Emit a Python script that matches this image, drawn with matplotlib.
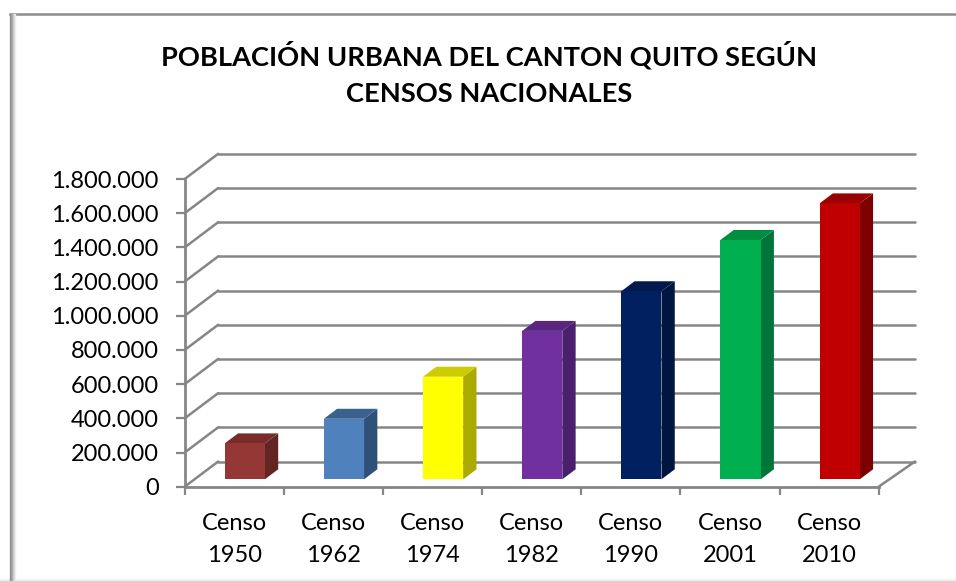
import matplotlib
matplotlib.use("Agg")
import matplotlib.pyplot as plt
from matplotlib.lines import Line2D
from matplotlib.patches import Polygon, Rectangle
from matplotlib.ticker import FuncFormatter

# ---- data ----
categories = ["Censo\n1950", "Censo\n1962", "Censo\n1974", "Censo\n1982",
              "Censo\n1990", "Censo\n2001", "Censo\n2010"]
values = [210000, 354000, 600000, 868000, 1100000, 1400000, 1614000]
front_colors = ["#953735", "#4f81bd", "#ffff00", "#7030a0", "#002060", "#00b050", "#c00000"]
top_colors = ["#772c2a", "#3b618f", "#cccc00", "#592680", "#001a4d", "#008d40", "#990000"]
side_colors = ["#632523", "#2f5079", "#aaaa00", "#4a1f6b", "#001540", "#00753a", "#7f0000"]
y_ticks = list(range(0, 1800001, 200000))
title = "POBLACIÓN URBANA DEL CANTON QUITO SEGÚN\nCENSOS NACIONALES"

# ---- layout (pixels of a 956x581 figure) ----
W, H = 956, 581
X0, X1, Y0, Y1 = 184.7, 878.7, 486.7, 179.0
GRID = "#868686"
plt.rcParams["font.family"] = ["Lato", "Carlito", "DejaVu Sans"]

fig = plt.figure(figsize=(W / 100, H / 100), dpi=100, facecolor="white")
ax = fig.add_axes([X0 / W, 1 - Y0 / H, (X1 - X0) / W, (Y0 - Y1) / H])
ax.set_xlim(0, len(values))
ax.set_ylim(0, y_ticks[-1])
ax.patch.set_visible(False)

ux = (X1 - X0) / len(values)          # pixels per category
uy = (Y0 - Y1) / y_ticks[-1]          # pixels per unit
wall_dx, wall_dxr, wall_dy = 33.5 / ux, 36.3 / ux, 25.2 / uy
n = len(values)

# walls: diagonals and back lines
lkw = dict(color=GRID, lw=1.8, clip_on=False, solid_capstyle="round", zorder=1)
for t in y_ticks:
    ax.plot([0, wall_dx], [t, t + wall_dy], **lkw)
    ax.plot([wall_dx, n + wall_dxr], [t + wall_dy, t + wall_dy], **lkw)
ax.plot([n, n + wall_dxr], [0, wall_dy], **lkw)

# bars
bar_left, bar_w = 40.0 / ux, 40.2 / ux
base = 7.4 / uy
dep_x, dep_y = 13.3 / ux, 10.0 / uy
for i, v in enumerate(values):
    l = i + bar_left
    r = l + bar_w
    b = base
    t = base + v
    ax.add_patch(Polygon([(r, b), (r + dep_x, b + dep_y), (r + dep_x, t + dep_y), (r, t)],
                         fc=side_colors[i], ec="none", clip_on=False, zorder=2))
    ax.add_patch(Polygon([(l, t), (r, t), (r + dep_x, t + dep_y), (l + dep_x, t + dep_y)],
                         fc=top_colors[i], ec="none", clip_on=False, zorder=2))
    ax.bar(l, v, width=bar_w, bottom=b, align="edge", color=front_colors[i],
           linewidth=0, clip_on=False, zorder=3)

# axes
for s in ("top", "right"):
    ax.spines[s].set_visible(False)
for s in ("left", "bottom"):
    ax.spines[s].set_color(GRID)
    ax.spines[s].set_linewidth(2.0)
    ax.spines[s].set_zorder(4)

ax.set_yticks(y_ticks)
ax.yaxis.set_major_formatter(FuncFormatter(lambda v, p: f"{int(v):,}".replace(",", ".")))
ax.tick_params(axis="y", length=6.2, width=1.6, color=GRID, pad=12.5, labelsize=17, labelcolor="black")

ax.set_xticks(range(n + 1))
ax.set_xticklabels([])
ax.set_xticks([i + 0.5 for i in range(n)], minor=True)
ax.set_xticklabels(categories, minor=True, fontsize=17, color="black", linespacing=1.66)
ax.tick_params(axis="x", which="major", length=6, width=1.6, color=GRID)
ax.tick_params(axis="x", which="minor", length=0, pad=19)

fig.text(489.5 / W, 1 - 73.5 / H, title, ha="center", va="center", fontsize=19.6,
         fontweight="bold", color="black", linespacing=1.6)

# chart frame with bevelled left edge
fig.add_artist(Line2D([9.5 / W, 1], [1 - 14 / H, 1 - 14 / H], color="#8c8c8c", lw=1.8))
for k, c in enumerate(["#8c8c8c", "#9c9c9c", "#b0b0b0", "#c6c6c6", "#dcdcdc", "#eeeeee"]):
    x = (10 + k) / W
    fig.add_artist(Line2D([x, x], [0, 1 - 14 / H], color=c, lw=0.9))
fig.add_artist(Rectangle((0, 0), 1, 2 / H, transform=fig.transFigure, fc="#f0f0f0", ec="none"))

fig.savefig("out.png", dpi=100)
